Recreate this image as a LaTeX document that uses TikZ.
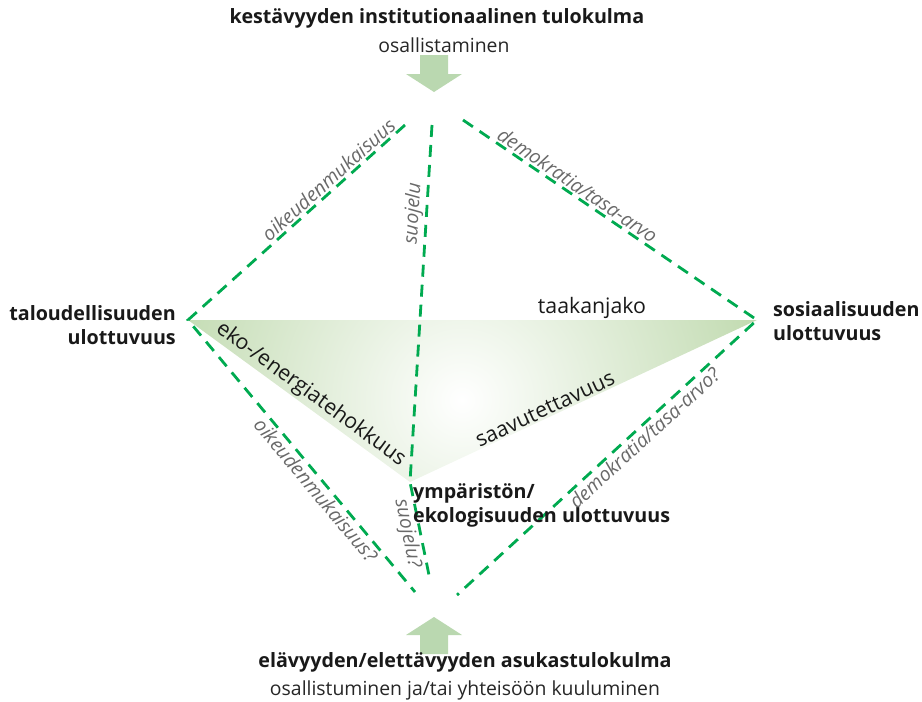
\documentclass[tikz,border=0pt]{standalone}
\usepackage{fontspec}
\setmainfont{Open Sans}
\definecolor{dashgreen}{RGB}{0,170,80}
\definecolor{arrowgreen}{RGB}{186,216,176}
\definecolor{trigreen}{RGB}{160,199,134}
\definecolor{labelgray}{RGB}{105,105,105}
\tikzset{
  dim/.style={dashgreen,line width=2.8pt,dash pattern=on 12pt off 8pt},
  corner/.style={font=\bfseries\fontsize{19.7}{24}\selectfont,align=#1,inner sep=0pt,text=black!90},
  sub/.style={font=\fontsize{19.4}{22}\selectfont,inner sep=0pt,text=black!85},
  theme/.style={font=\fontsize{21.3}{24}\selectfont,inner sep=1.5pt,text=black!90},
  value/.style={font=\itshape\fontsize{19.5}{22}\selectfont,text=labelgray,inner sep=3pt},
}
\begin{document}
\begin{tikzpicture}[x=1pt,y=-1pt]
\useasboundingbox (0,0) rectangle (922,702);
% corners of the dimensions
\coordinate (talous) at (188,320);
\coordinate (sosiaali) at (757,320);
\coordinate (ymparisto) at (410,482);
\coordinate (ylavasen) at (405,125);
\coordinate (ylakeski) at (432,125);
\coordinate (ylaoikea) at (463,120);
\coordinate (alavasen) at (415,592);
\coordinate (alakeski) at (430,580);
\coordinate (alaoikea) at (457,595);
\coordinate (valkoinen) at (462,400);

\begin{scope}
  \clip (talous)--(sosiaali)--(ymparisto)--cycle;
  \shade[inner color=white,outer color=trigreen] (valkoinen) circle (470pt);
\end{scope}

\draw[dim] (ylavasen)--(talous)--(alavasen);
\draw[dim] (ylakeski)--(ymparisto)--(alakeski);
\draw[dim] (ylaoikea)--(sosiaali)--(alaoikea);

% approach arrows
\coordinate (ylakarki) at (434,92);
\coordinate (alakarki) at (434,617);
\foreach\tip/\s in {ylakarki/-1,alakarki/1}
  \fill[arrowgreen] (\tip) -- ++(28,\s*18) -- ++(-14,0) -- ++(0,\s*19) -- ++(-28,0)
    -- ++(0,-\s*19) -- ++(-14,0) -- cycle;

\node[corner=center] (instituutio) at (437,18) {kestävyyden institutionaalinen tulokulma};
\node[sub] (osallistaminen) at (444,45) {osallistaminen};
\node[corner=right,anchor=east] (taloustxt) at (176,325) {taloudellisuuden\\ulottuvuus};
\node[corner=left,anchor=west] (sosiaalitxt) at (773,321) {sosiaalisuuden\\ulottuvuus};
\node[corner=left,anchor=north west] (ymparistotxt) at (413,483) {ympäristön/\\ekologisuuden ulottuvuus};
\node[corner=center] (asukas) at (465,662) {elävyyden/elettävyyden asukastulokulma};
\node[sub] (osallistuminen) at (465,690) {osallistuminen ja/tai yhteisöön kuuluminen};

% labels on the edges
\path (talous) -- node[theme,pos=.71,above] (taakanjako) {taakanjako} (sosiaali);
\path (talous) -- node[theme,sloped,pos=.52,above] (eko) {eko-/energiatehokkuus} (ymparisto);
\path (ymparisto) -- node[theme,sloped,pos=.4,above] (saavutettavuus) {saavutettavuus} (sosiaali);
\path (talous) -- node[value,sloped,pos=.68,above] (oikeus) {oikeudenmukaisuus} (ylavasen);
\path (ylakeski) -- node[value,sloped,pos=.25,above] (suojelu) {suojelu} (ymparisto);
\path (ylaoikea) -- node[value,sloped,pos=.37,above] (demokratia) {demokratia/tasa-arvo} (sosiaali);
\path (talous) -- node[value,sloped,pos=.6,below] (oikeus2) {oikeudenmukaisuus?} (alavasen);
\path (ymparisto) -- node[value,sloped,allow upside down,pos=.5,below] (suojelu2) {suojelu?} (alakeski);
\path (alaoikea) -- node[value,sloped,pos=.6,below] (demokratia2) {demokratia/tasa-arvo?} (sosiaali);
\end{tikzpicture}
\end{document}
